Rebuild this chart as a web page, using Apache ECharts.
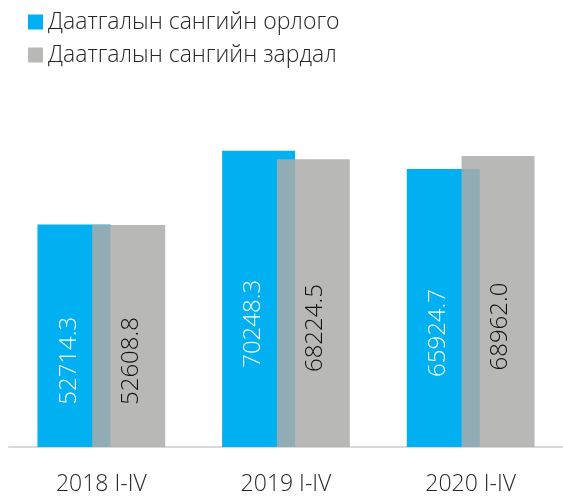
<!DOCTYPE html>
<html>
<head>
<meta charset="utf-8">
<script src="https://cdn.jsdelivr.net/npm/echarts@6/dist/echarts.min.js"></script>
<style>
  html, body { margin: 0; padding: 0; background: #fff; }
  #chart { width: 563px; height: 496px; }
</style>
</head>
<body>
<div id="chart"></div>
<script>
// data
const categories = ['2018 I-IV', '2019 I-IV', '2020 I-IV']
const incomeName = 'Даатгалын сангийн орлого'
const expenseName = 'Даатгалын сангийн зардал'
const income = [52714.3, 70248.3, 65924.7]
const expense = [52608.8, 68224.5, 68962.0]

const font = '"Open Sans", "Noto Sans", sans-serif'

const chart = echarts.init(document.getElementById('chart'))

// labels are rotated, so offset is [along text (up is -), across (right is +)]
const option = {
  animation: false,
  color: ['#00b0f0', 'rgba(172,171,170,0.85)'],
  legend: {
    orient: 'vertical',
    left: 28,
    top: 9,
    padding: 0,
    itemWidth: 15,
    itemHeight: 15,
    itemGap: 7,
    icon: 'rect',
    textStyle: { fontFamily: font, fontWeight: 300, fontSize: 23, lineHeight: 26, color: '#262626' },
    data: [incomeName, expenseName]
  },
  grid: { left: 9, right: -3, top: 109.5, bottom: 47 },
  xAxis: {
    type: 'category',
    data: categories,
    axisLine: { lineStyle: { color: '#d9d9d9', width: 2 } },
    axisTick: { show: false },
    axisLabel: { margin: 26, fontFamily: font, fontWeight: 300, fontSize: 23, color: '#262626' }
  },
  yAxis: {
    type: 'value',
    min: 0,
    max: 80000,
    show: false,
    splitLine: { show: false }
  },
  series: [
    {
      name: incomeName,
      type: 'bar',
      data: income,
      barWidth: 73,
      barGap: '-25%',
      label: {
        show: true,
        position: 'inside',
        rotate: 90,
        offset: [-25, -5],
        color: '#fff',
        fontFamily: font,
        fontWeight: 300,
        fontSize: 24,
        formatter: p => p.value.toFixed(1)
      }
    },
    {
      name: expenseName,
      type: 'bar',
      data: expense,
      barWidth: 73,
      barGap: '-25%',
      label: {
        show: true,
        position: 'inside',
        rotate: 90,
        offset: [-25, 2],
        color: '#111',
        fontFamily: font,
        fontWeight: 300,
        fontSize: 24,
        formatter: p => p.value.toFixed(1)
      }
    }
  ]
}

chart.setOption(option)
</script>
</body>
</html>
